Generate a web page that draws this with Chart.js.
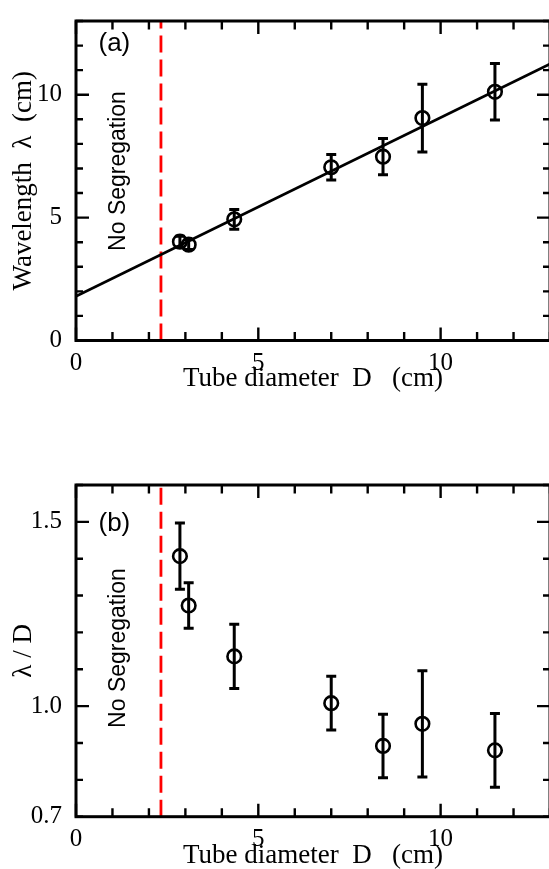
<!DOCTYPE html>
<html>
<head>
<meta charset="utf-8">
<script src="https://cdn.jsdelivr.net/npm/chart.js@4.4.1/dist/chart.umd.min.js"></script>
<style>
  html, body { margin: 0; padding: 0; background: #fff; overflow: hidden; width: 549px; height: 869px; }
  canvas { position: absolute; left: 0; }
  #chartA { top: 0; }
  #chartB { top: 440px; }
</style>
</head>
<body>
<canvas id="chartA" width="560" height="400" style="width:560px;height:400px"></canvas>
<canvas id="chartB" width="560" height="429" style="width:560px;height:429px"></canvas>
<script>
// tube diameter D (cm), same for both panels
const diameters = [2.85, 3.09, 4.34, 7.0, 8.42, 9.5, 11.49];
// (a) wavelength lambda (cm) + error
const wavelength    = [4.02, 3.9, 4.93, 7.05, 7.48, 9.05, 10.12];
const wavelengthErr = [0.22, 0.2, 0.4, 0.52, 0.74, 1.38, 1.15];
// (b) lambda / D + error
const ratio    = [1.407, 1.273, 1.135, 1.008, 0.892, 0.952, 0.880];
const ratioErr = [0.09, 0.062, 0.087, 0.073, 0.086, 0.144, 0.10];
// linear fit in (a), end points
const fitD      = [0, 13];
const fitLambda = [1.8, 11.25];
// no segregation below this diameter
const thresholdD = 2.33;

const xTicks  = [0, 5, 10];
const yTicksA = [0, 5, 10];
const yTicksB = [0.7, 1.0, 1.5];

const SERIF = '"Liberation Serif", "Times New Roman", serif';
const SANS  = '"Liberation Sans", Arial, sans-serif';

// frame + inward ticks on all four sides (grace style)
const frameTicks = {
    id: 'frameTicks',
    afterDraw(chart, args, opts) {
        const { ctx, chartArea: a, scales } = chart;
        const steps = (scale, minor, major) => {
            const out = [];
            const k0 = Math.ceil(scale.min / minor - 1e-6);
            const k1 = Math.floor(scale.max / minor + 1e-6);
            for (let k = k0; k <= k1; k++) {
                const v = k * minor;
                const r = v / major;
                out.push({ px: scale.getPixelForValue(v), major: Math.abs(r - Math.round(r)) < 1e-6 });
            }
            return out;
        };
        ctx.save();
        ctx.strokeStyle = '#000';
        ctx.lineWidth = 2.4;
        ctx.beginPath();
        steps(scales.x, opts.xMinor, opts.xMajor).forEach(t => {
            const len = t.major ? 13 : 8.5;
            ctx.moveTo(t.px, a.bottom); ctx.lineTo(t.px, a.bottom - len);
            ctx.moveTo(t.px, a.top);    ctx.lineTo(t.px, a.top + len);
        });
        steps(scales.y, opts.yMinor, opts.yMajor).forEach(t => {
            const len = t.major ? 13 : 7;
            ctx.moveTo(a.left, t.px);  ctx.lineTo(a.left + len, t.px);
            ctx.moveTo(a.right, t.px); ctx.lineTo(a.right - len, t.px);
        });
        ctx.stroke();
        ctx.lineWidth = 3;
        ctx.strokeRect(a.left, a.top, a.right - a.left, a.bottom - a.top);
        ctx.restore();
    }
};

// vertical error bars for dataset 0
const errorBars = {
    id: 'errorBars',
    afterDatasetsDraw(chart, args, opts) {
        const { ctx, scales: { x, y } } = chart;
        const pts = chart.data.datasets[0].data;
        ctx.save();
        ctx.strokeStyle = '#000';
        ctx.lineWidth = 3;
        ctx.beginPath();
        pts.forEach((p, i) => {
            const e = opts.errors[i];
            const px = x.getPixelForValue(p.x);
            const top = y.getPixelForValue(p.y + e);
            const bot = y.getPixelForValue(p.y - e);
            ctx.moveTo(px, top); ctx.lineTo(px, bot);
            ctx.moveTo(px - 5, top); ctx.lineTo(px + 5, top);
            ctx.moveTo(px - 5, bot); ctx.lineTo(px + 5, bot);
        });
        ctx.stroke();
        ctx.restore();
    }
};

// panel letter and "No Segregation" note
const panelText = {
    id: 'panelText',
    afterDraw(chart, args, opts) {
        const ctx = chart.ctx;
        ctx.save();
        ctx.fillStyle = '#000';
        ctx.font = '26px ' + SANS;
        ctx.textAlign = 'left';
        ctx.textBaseline = 'alphabetic';
        ctx.fillText(opts.letter, 98.5, opts.letterY);
        ctx.font = '23px ' + SANS;
        ctx.translate(124.5, opts.noteY);
        ctx.rotate(-Math.PI / 2);
        ctx.textAlign = 'center';
        ctx.fillText('No Segregation', 0, 0);
        ctx.restore();
    }
};

function xScale(titlePad, fitHeight) {
    return {
        type: 'linear', min: 0, max: 13,
        afterBuildTicks: ax => { ax.ticks = xTicks.map(v => ({ value: v })); },
        afterFit: s => { s.height = fitHeight; },
        grid: { display: false },
        border: { display: false },
        ticks: { color: '#000', padding: 0, maxRotation: 0, autoSkip: false, font: { family: SERIF, size: 25 } },
        title: {
            display: true, text: 'Tube diameter  D   (cm)', color: '#000',
            font: { family: SERIF, size: 27, lineHeight: 1 },
            padding: { top: 0, bottom: titlePad }
        }
    };
}

function yScale(min, max, ticks, fmt, title) {
    return {
        type: 'linear', min: min, max: max,
        afterBuildTicks: ax => { ax.ticks = ticks.map(v => ({ value: v })); },
        afterFit: s => { s.width = 76; },
        grid: { display: false },
        border: { display: false },
        ticks: { color: '#000', padding: 6, autoSkip: false, font: { family: SERIF, size: 25 }, callback: fmt },
        title: {
            display: true, text: title, color: '#000',
            font: { family: SERIF, size: 27, lineHeight: 1 },
            padding: { top: 10.5, bottom: 0 }
        }
    };
}

function pointsSet(ys) {
    return {
        data: diameters.map((d, i) => ({ x: d, y: ys[i] })),
        showLine: false,
        pointStyle: 'circle',
        pointRadius: 6.8,
        pointBorderWidth: 2.6,
        pointBorderColor: '#000',
        pointBackgroundColor: 'rgba(0,0,0,0)',
    };
}

function thresholdSet(min, max) {
    return {
        data: [{ x: thresholdD, y: min }, { x: thresholdD, y: max }],
        showLine: true,
        pointRadius: 0,
        borderColor: '#ff0000',
        borderWidth: 2.8,
        borderDash: [17, 7],
    };
}

const common = {
    responsive: false,
    animation: false,
    events: [],
};

new Chart(document.getElementById('chartA'), {
    type: 'scatter',
    data: {
        datasets: [
            pointsSet(wavelength),
            {
                data: fitD.map((d, i) => ({ x: d, y: fitLambda[i] })),
                showLine: true,
                pointRadius: 0,
                borderColor: '#000',
                borderWidth: 2.7,
            },
            thresholdSet(0, 13),
        ]
    },
    options: {
        ...common,
        layout: { padding: { top: 7.5, right: 10, left: 0, bottom: 0 } },
        scales: {
            x: xScale(7.5, 59.5),
            y: yScale(0, 13, yTicksA, v => String(v), 'Wavelength  \u03bb  (cm)'),
        },
        plugins: {
            legend: { display: false },
            tooltip: { enabled: false },
            frameTicks: { xMinor: 1, xMajor: 5, yMinor: 1, yMajor: 5 },
            errorBars: { errors: wavelengthErr },
            panelText: { letter: '(a)', letterY: 51, noteY: 171 },
        }
    },
    plugins: [frameTicks, errorBars, panelText]
});

new Chart(document.getElementById('chartB'), {
    type: 'scatter',
    data: {
        datasets: [
            pointsSet(ratio),
            thresholdSet(0.7, 1.6),
        ]
    },
    options: {
        ...common,
        layout: { padding: { top: 45, right: 10, left: 0, bottom: 0 } },
        scales: {
            x: xScale(0, 52.3),
            y: yScale(0.7, 1.6, yTicksB, v => v.toFixed(1), '\u03bb / D'),
        },
        plugins: {
            legend: { display: false },
            tooltip: { enabled: false },
            frameTicks: { xMinor: 1, xMajor: 5, yMinor: 0.1, yMajor: 0.5 },
            errorBars: { errors: ratioErr },
            panelText: { letter: '(b)', letterY: 91, noteY: 208 },
        }
    },
    plugins: [frameTicks, errorBars, panelText]
});
</script>
</body>
</html>
